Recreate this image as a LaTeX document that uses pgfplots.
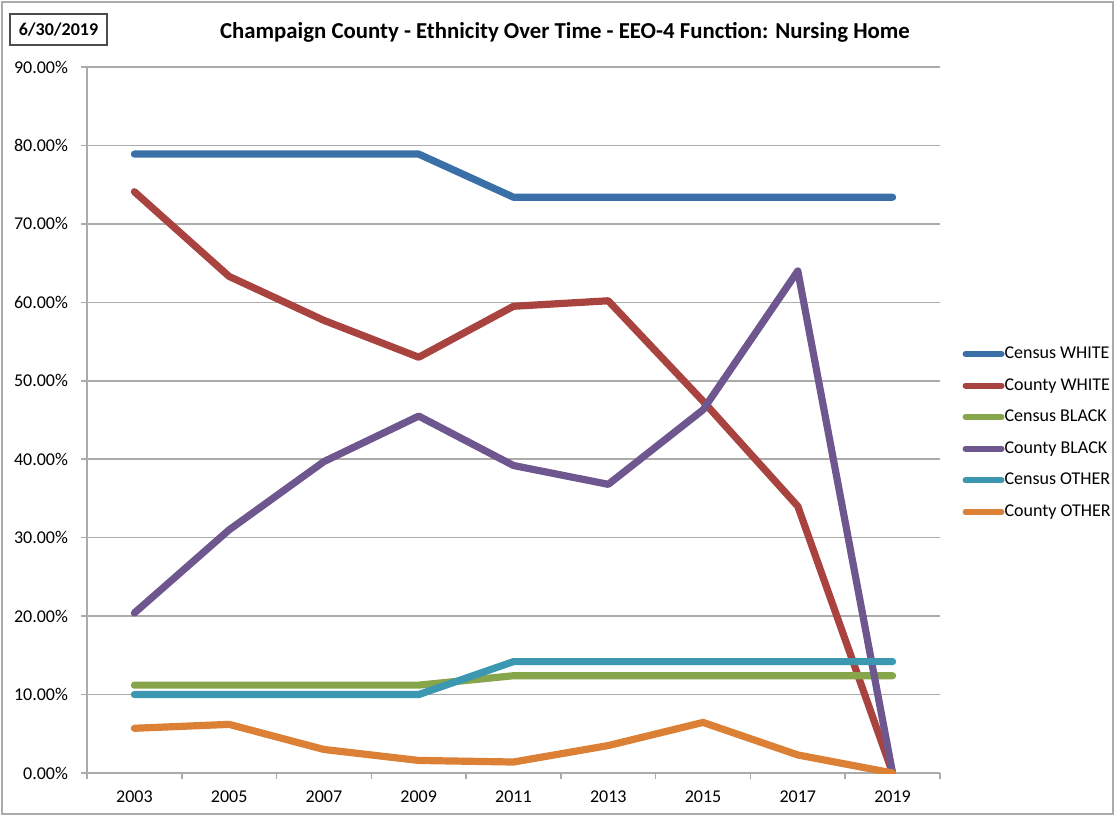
\documentclass[border=0pt]{standalone}
\usepackage{fontspec}
\setmainfont{Carlito}
\usepackage{pgfplots}
\pgfplotsset{compat=1.18}
\definecolor{cWhite}{HTML}{3B6FA7}
\definecolor{kWhite}{HTML}{A9433F}
\definecolor{cBlack}{HTML}{87A54A}
\definecolor{kBlack}{HTML}{6E568F}
\definecolor{cOther}{HTML}{3C98B0}
\definecolor{kOther}{HTML}{DC8036}
\definecolor{gridgray}{HTML}{ABABAB}

\begin{document}
\begin{tikzpicture}
% 1 px of the reference = 0.5pt; axis origin at px (87,773)
\useasboundingbox (-43.5pt,-21.5pt) rectangle (514pt,386.5pt);
\draw[gridgray, line width=0.8pt] (-42.5pt,-20.5pt) rectangle (513pt,385.5pt);
\draw[black!70, line width=0.6pt] (-38.5pt,364pt) rectangle (10pt,379.5pt);
\node[font=\fontsize{9}{11}\selectfont\bfseries] at (-14.25pt,371.5pt) {6/30/2019};
\node[font=\fontsize{11.4}{13}\selectfont\bfseries] at (239pt,370.5pt)
  {Champaign County - Ethnicity Over Time - EEO-4 Function: Nursing Home};

\begin{axis}[
  at={(0pt,0pt)}, anchor=south west,
  scale only axis, width=426.5pt, height=353pt,
  xmin=-0.5, xmax=8.5, ymin=0, ymax=90,
  axis lines*=left,
  axis line style={gridgray, line width=0.8pt},
  xtick={0,...,8},
  xticklabels={2003,2005,2007,2009,2011,2013,2015,2017,2019},
  minor xtick={-0.5,0.5,...,8.5},
  major x tick style={draw=none},
  minor x tick style={gridgray, line width=0.8pt},
  ytick={0,10,...,90},
  ytick style={gridgray, line width=0.8pt},
  major tick length=3pt, minor tick length=3pt,
  tick align=outside,
  ymajorgrids,
  major grid style={gridgray, line width=0.8pt},
  yticklabel={\pgfmathprintnumber[fixed,fixed zerofill,precision=2]{\tick}\%},
  tick label style={font=\fontsize{9}{11}\selectfont,
    /pgf/number format/assume math mode=true},
  xticklabel style={yshift=-2.5pt},
  yticklabel style={xshift=-3pt},
  every axis plot/.append style={line width=3.6pt, line cap=round, line join=round},
  legend style={at={(1.026,0.4817)}, anchor=west, draw=none, fill=none,
    inner sep=0pt, row sep=7.3pt,
    font=\fontsize{9}{11}\selectfont,
    nodes={inner sep=0pt, text height=6.5pt, text depth=2pt}},
  legend cell align=left,
  legend image code/.code={\draw[#1, line width=3pt] (0pt,0pt) -- (18pt,0pt);},
]
\addplot[cWhite] coordinates {(0,78.9)(1,78.9)(2,78.9)(3,78.9)(4,73.4)(5,73.4)(6,73.4)(7,73.4)(8,73.4)};
\addlegendentry{Census WHITE}
\addplot[kWhite] coordinates {(0,74.1)(1,63.3)(2,57.7)(3,53.0)(4,59.5)(5,60.2)(6,47.4)(7,34.0)(8,0)};
\addlegendentry{County WHITE}
\addplot[cBlack] coordinates {(0,11.2)(1,11.2)(2,11.2)(3,11.2)(4,12.4)(5,12.4)(6,12.4)(7,12.4)(8,12.4)};
\addlegendentry{Census BLACK}
\addplot[kBlack] coordinates {(0,20.4)(1,31.0)(2,39.7)(3,45.5)(4,39.2)(5,36.8)(6,46.3)(7,64.0)(8,0)};
\addlegendentry{County BLACK}
\addplot[cOther] coordinates {(0,10.0)(1,10.0)(2,10.0)(3,10.0)(4,14.2)(5,14.2)(6,14.2)(7,14.2)(8,14.2)};
\addlegendentry{Census OTHER}
\addplot[kOther] coordinates {(0,5.7)(1,6.2)(2,3.0)(3,1.6)(4,1.4)(5,3.5)(6,6.45)(7,2.3)(8,0)};
\addlegendentry{County OTHER}
\end{axis}
\end{tikzpicture}
\end{document}
